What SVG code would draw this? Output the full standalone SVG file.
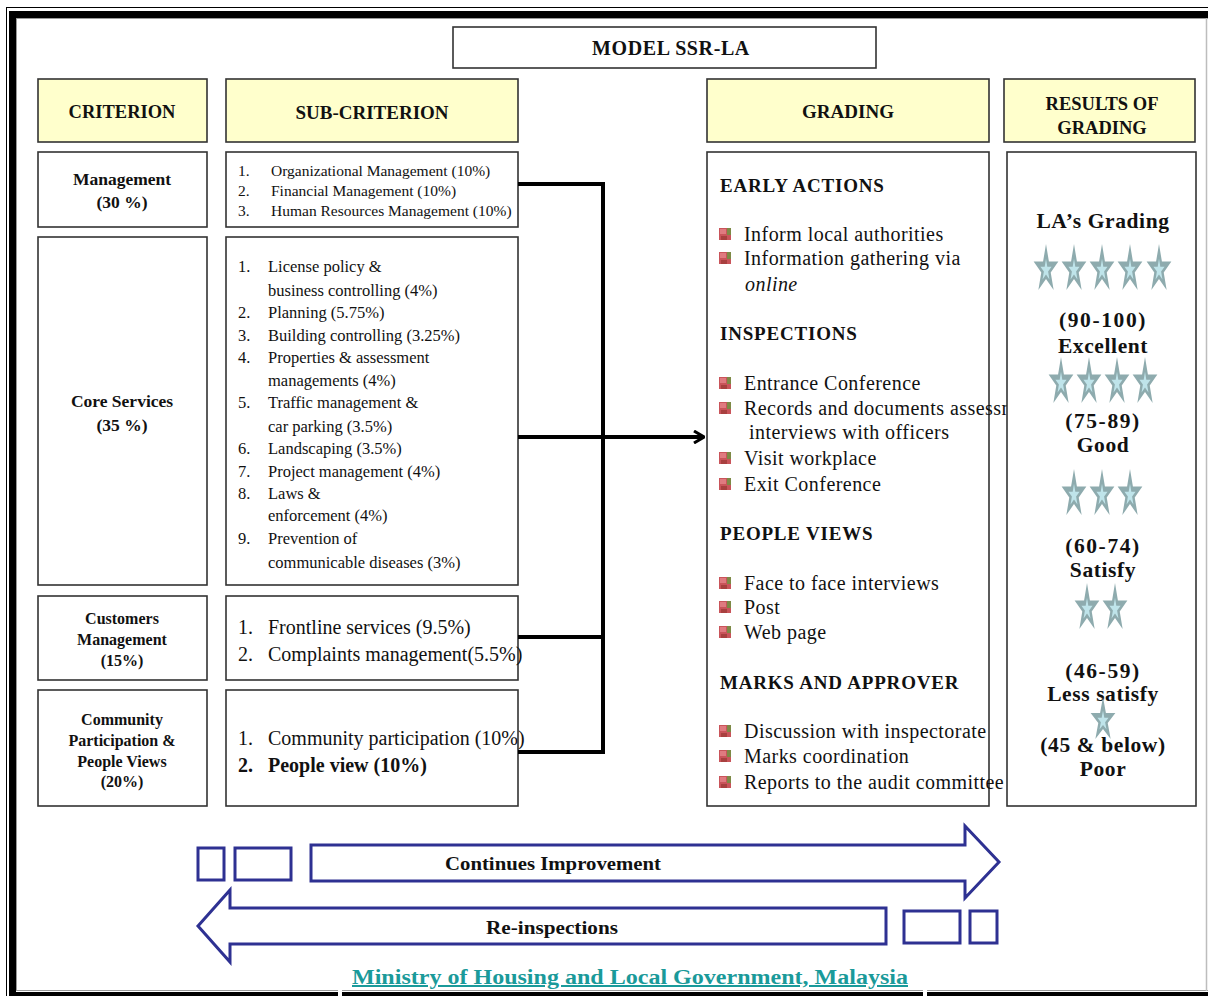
<svg xmlns="http://www.w3.org/2000/svg" xmlns:xlink="http://www.w3.org/1999/xlink" width="1208" height="996" viewBox="0 0 1208 996">
  <style>
    .box { fill: #ffffff; stroke: #333333; stroke-width: 1.6; }
    .hdr { fill: #ffffcc; stroke: #333333; stroke-width: 1.6; }
    .conn { fill: none; stroke: #000000; stroke-width: 4; }
    .flow { fill: #ffffff; stroke: #2e3192; stroke-width: 3; stroke-linejoin: miter; }
    .tb { font-family: "Liberation Serif", "Times New Roman", serif; font-weight: bold; fill: #111111; }
    .t { font-family: "Liberation Serif", "Times New Roman", serif; fill: #111111; }
    .g { font-family: "Liberation Serif", "Times New Roman", serif; fill: #111111; font-size: 20px; letter-spacing: 0.45px; }
    .gh { font-family: "Liberation Serif", "Times New Roman", serif; fill: #111111; font-size: 19px; font-weight: bold; letter-spacing: 0.8px; }
    .r { font-family: "Liberation Serif", "Times New Roman", serif; fill: #111111; font-size: 21.5px; font-weight: bold; text-anchor: middle; letter-spacing: 0.6px; }
    .num { letter-spacing: 1.6px; }
    .mid { text-anchor: middle; }
  </style>
  <defs>
    <!-- tall grading star -->
    <symbol id="star" viewBox="-1 -1 2 1.81" preserveAspectRatio="none">
      <path d="M0,-1 L0.2245,-0.309 L0.951,-0.309 L0.363,0.118 L0.588,0.809 L0,0.382 L-0.588,0.809 L-0.363,0.118 L-0.951,-0.309 L-0.2245,-0.309 Z" fill="#8eabae"/>
      <path transform="translate(0,0.03) scale(0.45)" d="M0,-1 L0.2245,-0.309 L0.951,-0.309 L0.363,0.118 L0.588,0.809 L0,0.382 L-0.588,0.809 L-0.363,0.118 L-0.951,-0.309 L-0.2245,-0.309 Z" fill="#bfe4ea"/>
    </symbol>
    <!-- list bullet -->
    <symbol id="bullet" viewBox="0 0 12 12">
      <rect x="0" y="0" width="12" height="12" fill="#c9545a"/>
      <rect x="1" y="1" width="6" height="5" fill="#e07a80"/>
      <rect x="8" y="0" width="4" height="7" fill="#7d8a46"/>
      <rect x="2" y="8" width="6" height="4" fill="#a8403f"/>
    </symbol>
    <marker id="chev" viewBox="0 0 12 14" refX="11" refY="7" markerWidth="12" markerHeight="14" markerUnits="userSpaceOnUse" orient="auto">
      <path d="M1,1 L11,7 L1,13" fill="none" stroke="#000" stroke-width="3"/>
    </marker>
  </defs>

  <!-- page frame -->
  <g id="frame">
    <rect x="0" y="0" width="1208" height="996" fill="#ffffff"/>
    <rect x="6.5" y="7.5" width="1210" height="1000" fill="none" stroke="#000" stroke-width="1"/>
    <rect x="12.5" y="14.5" width="1210" height="981" fill="none" stroke="#000" stroke-width="7"/>
    <rect x="16.5" y="18.5" width="1210" height="972" fill="none" stroke="#9a9a9a" stroke-width="1"/>
    <line x1="1206.5" y1="18" x2="1206.5" y2="991" stroke="#bdbdbd" stroke-width="1.5"/>
    <rect x="338" y="990" width="4" height="6" fill="#ffffff"/>
    <rect x="923" y="990" width="4" height="6" fill="#ffffff"/>
  </g>

  <g id="title">
    <rect class="box" x="453" y="27" width="423" height="41"/>
    <text class="tb mid" x="671" y="55" font-size="20" letter-spacing="0.6">MODEL  SSR-LA</text>
  </g>

  <!-- column headers -->
  <g id="hdr-criterion">
    <rect class="hdr" x="38" y="79" width="169" height="63"/>
    <text class="tb mid" x="122" y="118" font-size="18.5">CRITERION</text>
  </g>
  <g id="hdr-subcriterion">
    <rect class="hdr" x="226" y="79" width="292" height="63"/>
    <text class="tb mid" x="372" y="119" font-size="19">SUB-CRITERION</text>
  </g>
  <g id="hdr-grading">
    <rect class="hdr" x="707" y="79" width="282" height="63"/>
    <text class="tb mid" x="848" y="118" font-size="19">GRADING</text>
  </g>
  <g id="hdr-results">
    <rect class="hdr" x="1004" y="79" width="191" height="63"/>
    <text class="tb mid" x="1102" y="110" font-size="18.5">RESULTS OF</text>
    <text class="tb mid" x="1102" y="134" font-size="18.5">GRADING</text>
  </g>

  <!-- criteria -->
  <g id="crit-management">
    <rect class="box" x="38" y="152" width="169" height="75"/>
    <text class="tb mid" x="122" y="185" font-size="17.5">Management</text>
    <text class="tb mid" x="122" y="208" font-size="17.5">(30 %)</text>
  </g>
  <g id="crit-core">
    <rect class="box" x="38" y="237" width="169" height="348"/>
    <text class="tb mid" x="122" y="407" font-size="17.5">Core Services</text>
    <text class="tb mid" x="122" y="431" font-size="17.5">(35 %)</text>
  </g>
  <g id="crit-customers">
    <rect class="box" x="38" y="596" width="169" height="84"/>
    <text class="tb mid" x="122" y="624" font-size="16">Customers</text>
    <text class="tb mid" x="122" y="645" font-size="16">Management</text>
    <text class="tb mid" x="122" y="666" font-size="16">(15%)</text>
  </g>
  <g id="crit-community">
    <rect class="box" x="38" y="690" width="169" height="116"/>
    <text class="tb mid" x="122" y="725" font-size="16">Community</text>
    <text class="tb mid" x="122" y="746" font-size="16">Participation &amp;</text>
    <text class="tb mid" x="122" y="767" font-size="16">People Views</text>
    <text class="tb mid" x="122" y="787" font-size="16">(20%)</text>
  </g>

  <!-- sub-criteria -->
  <g id="sub-management" class="t" font-size="15.5">
    <rect class="box" x="226" y="152" width="292" height="75"/>
    <text x="238" y="176">1.</text><text x="271" y="176">Organizational Management (10%)</text>
    <text x="238" y="196">2.</text><text x="271" y="196">Financial Management (10%)</text>
    <text x="238" y="216">3.</text><text x="271" y="216">Human Resources Management (10%)</text>
  </g>
  <g id="sub-core" class="t" font-size="16.5">
    <rect class="box" x="226" y="237" width="292" height="348"/>
    <text x="238" y="272">1.</text><text x="268" y="272">License policy &amp;</text>
    <text x="268" y="296">business controlling (4%)</text>
    <text x="238" y="318">2.</text><text x="268" y="318">Planning (5.75%)</text>
    <text x="238" y="341">3.</text><text x="268" y="341">Building controlling (3.25%)</text>
    <text x="238" y="363">4.</text><text x="268" y="363">Properties &amp; assessment</text>
    <text x="268" y="386">managements (4%)</text>
    <text x="238" y="408">5.</text><text x="268" y="408">Traffic management  &amp;</text>
    <text x="268" y="432">car parking (3.5%)</text>
    <text x="238" y="454">6.</text><text x="268" y="454">Landscaping (3.5%)</text>
    <text x="238" y="477">7.</text><text x="268" y="477">Project management  (4%)</text>
    <text x="238" y="499">8.</text><text x="268" y="499">Laws &amp;</text>
    <text x="268" y="521">enforcement (4%)</text>
    <text x="238" y="544">9.</text><text x="268" y="544">Prevention of</text>
    <text x="268" y="568">communicable diseases (3%)</text>
  </g>
  <g id="sub-customers" class="t" font-size="20">
    <rect class="box" x="226" y="596" width="292" height="84"/>
    <text x="238" y="634">1.</text><text x="268" y="634">Frontline services  (9.5%)</text>
    <text x="238" y="661">2.</text><text x="268" y="661">Complaints management(5.5%)</text>
  </g>
  <g id="sub-community" class="t" font-size="20">
    <rect class="box" x="226" y="690" width="292" height="116"/>
    <text x="238" y="745">1.</text><text x="268" y="745">Community participation  (10%)</text>
    <text x="238" y="772" font-weight="bold">2.</text><text x="268" y="772" font-weight="bold">People view (10%)</text>
  </g>

  <!-- connectors -->
  <g id="connectors">
    <polyline class="conn" points="518,184 603,184 603,754"/>
    <line class="conn" x1="518" y1="637" x2="603" y2="637"/>
    <line class="conn" x1="518" y1="752" x2="605" y2="752"/>
    <line class="conn" x1="518" y1="437" x2="704" y2="437" marker-end="url(#chev)"/>
  </g>

  <!-- grading steps -->
  <g id="grading">
    <rect class="box" x="707" y="152" width="282" height="654"/>
    <text class="gh" x="720" y="192">EARLY ACTIONS</text>
    <use href="#bullet" x="719" y="228" width="12" height="12"/>
    <text class="g" x="744" y="241">Inform local authorities</text>
    <use href="#bullet" x="719" y="252" width="12" height="12"/>
    <text class="g" x="744" y="265">Information gathering via</text>
    <text class="g" x="745" y="291" font-style="italic">online</text>

    <text class="gh" x="720" y="340">INSPECTIONS</text>
    <use href="#bullet" x="719" y="377" width="12" height="12"/>
    <text class="g" x="744" y="390">Entrance Conference</text>
    <use href="#bullet" x="719" y="402" width="12" height="12"/>
    <text class="g" x="744" y="415">Records and documents assessment,</text>
    <text class="g" x="749" y="439">interviews with officers</text>
    <use href="#bullet" x="719" y="452" width="12" height="12"/>
    <text class="g" x="744" y="465">Visit workplace</text>
    <use href="#bullet" x="719" y="478" width="12" height="12"/>
    <text class="g" x="744" y="491">Exit Conference</text>

    <text class="gh" x="720" y="540">PEOPLE VIEWS</text>
    <use href="#bullet" x="719" y="577" width="12" height="12"/>
    <text class="g" x="744" y="590">Face to face interviews</text>
    <use href="#bullet" x="719" y="601" width="12" height="12"/>
    <text class="g" x="744" y="614">Post</text>
    <use href="#bullet" x="719" y="626" width="12" height="12"/>
    <text class="g" x="744" y="639">Web page</text>

    <text class="gh" x="720" y="689">MARKS AND APPROVER</text>
    <use href="#bullet" x="719" y="725" width="12" height="12"/>
    <text class="g" x="744" y="738">Discussion with inspectorate</text>
    <use href="#bullet" x="719" y="750" width="12" height="12"/>
    <text class="g" x="744" y="763">Marks coordination</text>
    <use href="#bullet" x="719" y="776" width="12" height="12"/>
    <text class="g" x="744" y="789">Reports to the audit committee</text>
  </g>

  <!-- grading results -->
  <g id="results">
    <rect class="box" x="1007" y="152" width="189" height="654"/>
    <text class="r" x="1103" y="228">LA’s Grading</text>
    <use href="#star" x="1033" y="244" width="26" height="46"/>
    <use href="#star" x="1061" y="244" width="26" height="46"/>
    <use href="#star" x="1089" y="244" width="26" height="46"/>
    <use href="#star" x="1117" y="244" width="26" height="46"/>
    <use href="#star" x="1146" y="244" width="26" height="46"/>
    <text class="r num" x="1103" y="327">(90-100)</text>
    <text class="r" x="1103" y="353">Excellent</text>
    <use href="#star" x="1048" y="357" width="26" height="46"/>
    <use href="#star" x="1076" y="357" width="26" height="46"/>
    <use href="#star" x="1104" y="357" width="26" height="46"/>
    <use href="#star" x="1132" y="357" width="26" height="46"/>
    <text class="r num" x="1103" y="428">(75-89)</text>
    <text class="r" x="1103" y="452">Good</text>
    <use href="#star" x="1061" y="469" width="26" height="46"/>
    <use href="#star" x="1089" y="469" width="26" height="46"/>
    <use href="#star" x="1117" y="469" width="26" height="46"/>
    <text class="r num" x="1103" y="553">(60-74)</text>
    <text class="r" x="1103" y="577">Satisfy</text>
    <use href="#star" x="1074" y="583" width="26" height="46"/>
    <use href="#star" x="1102" y="583" width="26" height="46"/>
    <text class="r num" x="1103" y="678">(46-59)</text>
    <text class="r" x="1103" y="701">Less satisfy</text>
    <use href="#star" x="1090" y="697" width="26" height="42"/>
    <text class="r" x="1103" y="752">(45 &amp; below)</text>
    <text class="r" x="1103" y="776">Poor</text>
  </g>

  <!-- improvement cycle arrows -->
  <g id="continues-improvement">
    <rect class="flow" x="198" y="848" width="26" height="32"/>
    <rect class="flow" x="235" y="848" width="56" height="32"/>
    <path class="flow" d="M311,845 L965,845 L965,826 L999,862 L965,898 L965,881 L311,881 Z"/>
    <text class="tb" x="445" y="870" font-size="19" textLength="216" lengthAdjust="spacingAndGlyphs">Continues Improvement</text>
  </g>
  <g id="re-inspections">
    <path class="flow" d="M886,908 L230,908 L230,890 L198,926 L230,962 L230,944 L886,944 Z"/>
    <rect class="flow" x="904" y="911" width="56" height="32"/>
    <rect class="flow" x="970" y="911" width="27" height="32"/>
    <text class="tb" x="486" y="934" font-size="19" textLength="132" lengthAdjust="spacingAndGlyphs">Re-inspections</text>
  </g>

  <g id="footer">
    <text class="tb" x="352" y="984" font-size="20" style="fill:#1a9a9a" text-decoration="underline" textLength="556" lengthAdjust="spacingAndGlyphs">Ministry of Housing and Local Government, Malaysia </text>
  </g>
</svg>
